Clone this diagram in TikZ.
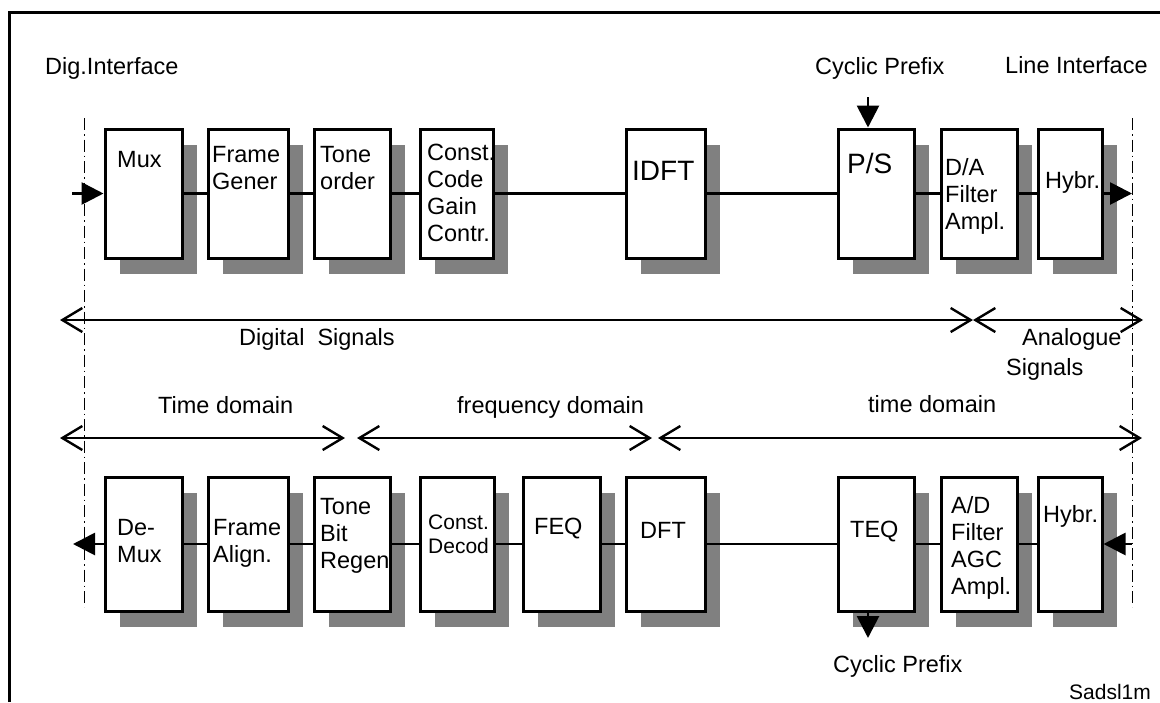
\documentclass[tikz,border=0pt]{standalone}
\usepackage{fontspec}
\setmainfont{Liberation Sans}
\usetikzlibrary{arrows.meta,shadows}
\definecolor{shade}{HTML}{808080}
\begin{document}
\begin{tikzpicture}[x=1pt,y=-1pt,
  box/.style={draw, line width=3pt, fill=white, inner sep=0pt,
    drop shadow={shadow xshift=15pt, shadow yshift=-16pt, opacity=1, fill=shade}},
  topbox/.style={box, minimum height=129pt},
  botbox/.style={box, minimum height=134pt},
  lbl/.style={font=\fontsize{23.5}{27}\selectfont, align=left, inner sep=0pt, anchor=base west},
  biglbl/.style={lbl, font=\fontsize{28}{32}\selectfont},
  smalllbl/.style={lbl, font=\fontsize{21}{24}\selectfont},
  sig/.style={line width=2.8pt},
  fillarrow/.style={line width=2.8pt, -{Triangle[length=22pt,width=22pt]}},
  span/.style={line width=2.4pt, {Straight Barb[length=20pt,width=24pt]}-{Straight Barb[length=20pt,width=24pt]}},
  dashdot/.style={line width=0.9pt, dash pattern=on 12pt off 4pt on 1.5pt off 4pt}
]
\useasboundingbox (0,0) rectangle (1160,702);
% frame
\draw[line width=3pt] (9,702) -- (9,12) -- (1160,12);
% interface boundaries
\coordinate (dl1) at (84,118);   \coordinate (dl2) at (84,607);
\coordinate (dr1) at (1132,118); \coordinate (dr2) at (1132,607);
\draw[dashdot] (dl1) -- (dl2);
\draw[dashdot] (dr1) -- (dr2);

% top row boxes
\node[topbox, minimum width=77pt] (mux)   at (143.5,193.5) {};
\node[topbox, minimum width=80pt] (fg)    at (248,193.5) {};
\node[topbox, minimum width=76pt] (tone)  at (352,193.5) {};
\node[topbox, minimum width=73pt] (const) at (456.5,193.5) {};
\node[topbox, minimum width=79pt] (idft)  at (665.5,193.5) {};
\node[topbox, minimum width=76pt] (ps)    at (876,193.5) {};
\node[topbox, minimum width=76pt] (da)    at (979,193.5) {};
\node[topbox, minimum width=64pt] (hybt)  at (1070,193.5) {};

% bottom row boxes
\node[botbox, minimum width=77pt] (demux) at (143.5,544) {};
\node[botbox, minimum width=80pt] (fa)    at (248,544) {};
\node[botbox, minimum width=76pt] (tbr)   at (352,544) {};
\node[botbox, minimum width=74pt] (cd)    at (457,544) {};
\node[botbox, minimum width=77pt] (feq)   at (561.5,544) {};
\node[botbox, minimum width=79pt] (dft)   at (665.5,544) {};
\node[botbox, minimum width=76pt] (teq)   at (876,544) {};
\node[botbox, minimum width=76pt] (ad)    at (979,544) {};
\node[botbox, minimum width=64pt] (hybb)  at (1070,544) {};

% connectors top
\draw[sig] (mux) -- (fg);
\draw[sig] (fg) -- (tone);
\draw[sig] (tone) -- (const);
\draw[sig] (const) -- (idft);
\draw[sig] (idft) -- (ps);
\draw[sig] (ps) -- (da);
\draw[sig] (da) -- (hybt);
\coordinate (inT) at (72,193.5);
\coordinate (outT) at (1132,193.5);
\draw[fillarrow] (inT) -- (mux.west);
\draw[fillarrow] (hybt.east) -- (outT);
% connectors bottom
\draw[sig] (demux) -- (fa);
\draw[sig] (fa) -- (tbr);
\draw[sig] (tbr) -- (cd);
\draw[sig] (cd) -- (feq);
\draw[sig] (feq) -- (dft);
\draw[sig] (dft) -- (teq);
\draw[sig] (teq) -- (ad);
\draw[sig] (ad) -- (hybb);
\coordinate (outB) at (73,544);
\coordinate (inB) at (1132,544);
\draw[fillarrow] (demux.west) -- (outB);
\draw[fillarrow] (inB) -- (hybb.east);
% cyclic prefix arrows
\coordinate (cpT) at (868,97);
\coordinate (cpB) at (868,638);
\draw[fillarrow] (cpT) -- (cpT |- ps.north);
\draw[fillarrow] (cpB |- teq.south) -- (cpB);

% span arrows
\coordinate (dsL) at (60,320);  \coordinate (dsX) at (973,320);  \coordinate (dsR) at (1143,320);
\draw[span] (dsL) -- (dsX);
\draw[span] (dsX) -- (dsR);
\coordinate (tdA) at (60,438);  \coordinate (tdB) at (345,438);
\coordinate (fdA) at (357,438); \coordinate (fdB) at (652,438);
\coordinate (tdC) at (658,438); \coordinate (tdD) at (1142,438);
\draw[span] (tdA) -- (tdB);
\draw[span] (fdA) -- (fdB);
\draw[span] (tdC) -- (tdD);

% box labels top (anchor = baseline of last line)
\node[lbl] (tmux) at (117,167) {Mux};
\node[lbl] (tfg) at (212,189) {Frame\\Gener};
\node[lbl] (ttone) at (320,189) {Tone\\order};
\node[lbl] (tconst) at (427,241) {Const.\\Code\\Gain\\Contr.};
\node[biglbl] (tidft) at (632,180) {IDFT};
\node[biglbl] (tps) at (847,173) {P/S};
\node[lbl] (tda) at (945,229) {D/A\\Filter\\Ampl.};
\node[lbl] (thybt) at (1045,188) {Hybr.};
% box labels bottom
\node[lbl] (tdemux) at (117,562) {De-\\Mux};
\node[lbl] (tfa) at (213,562) {Frame\\Align.};
\node[lbl] (ttbr) at (320,568) {Tone\\Bit\\Regen};
\node[smalllbl] (tcd) at (428,553) {Const.\\Decod};
\node[lbl] (tfeq) at (534,534) {FEQ};
\node[lbl] (tdft) at (640,538) {DFT};
\node[lbl] (tteq) at (850,537) {TEQ};
\node[lbl] (tad) at (951,594) {A/D\\Filter\\AGC\\Ampl.};
\node[lbl] (thybb) at (1043,522) {Hybr.};

% free texts
\node[lbl] (digif) at (45,74) {Dig.Interface};
\node[lbl] (lineif) at (1005,73) {Line Interface};
\node[lbl] (cyct) at (815,74) {Cyclic Prefix};
\node[lbl] (cycb) at (833,672) {Cyclic Prefix};
\node[lbl] (digs) at (239,345) {Digital\ \ Signals};
\node[lbl] (anas) at (1022,345) {Analogue};
\node[lbl] (anas2) at (1006,375) {Signals};
\node[lbl] (timed1) at (158,413) {Time domain};
\node[lbl] (freqd) at (457,413) {frequency domain};
\node[lbl] (timed2) at (868,412) {time domain};
\node[smalllbl] (sad) at (1069,699) {Sadsl1m};
\end{tikzpicture}
\end{document}
